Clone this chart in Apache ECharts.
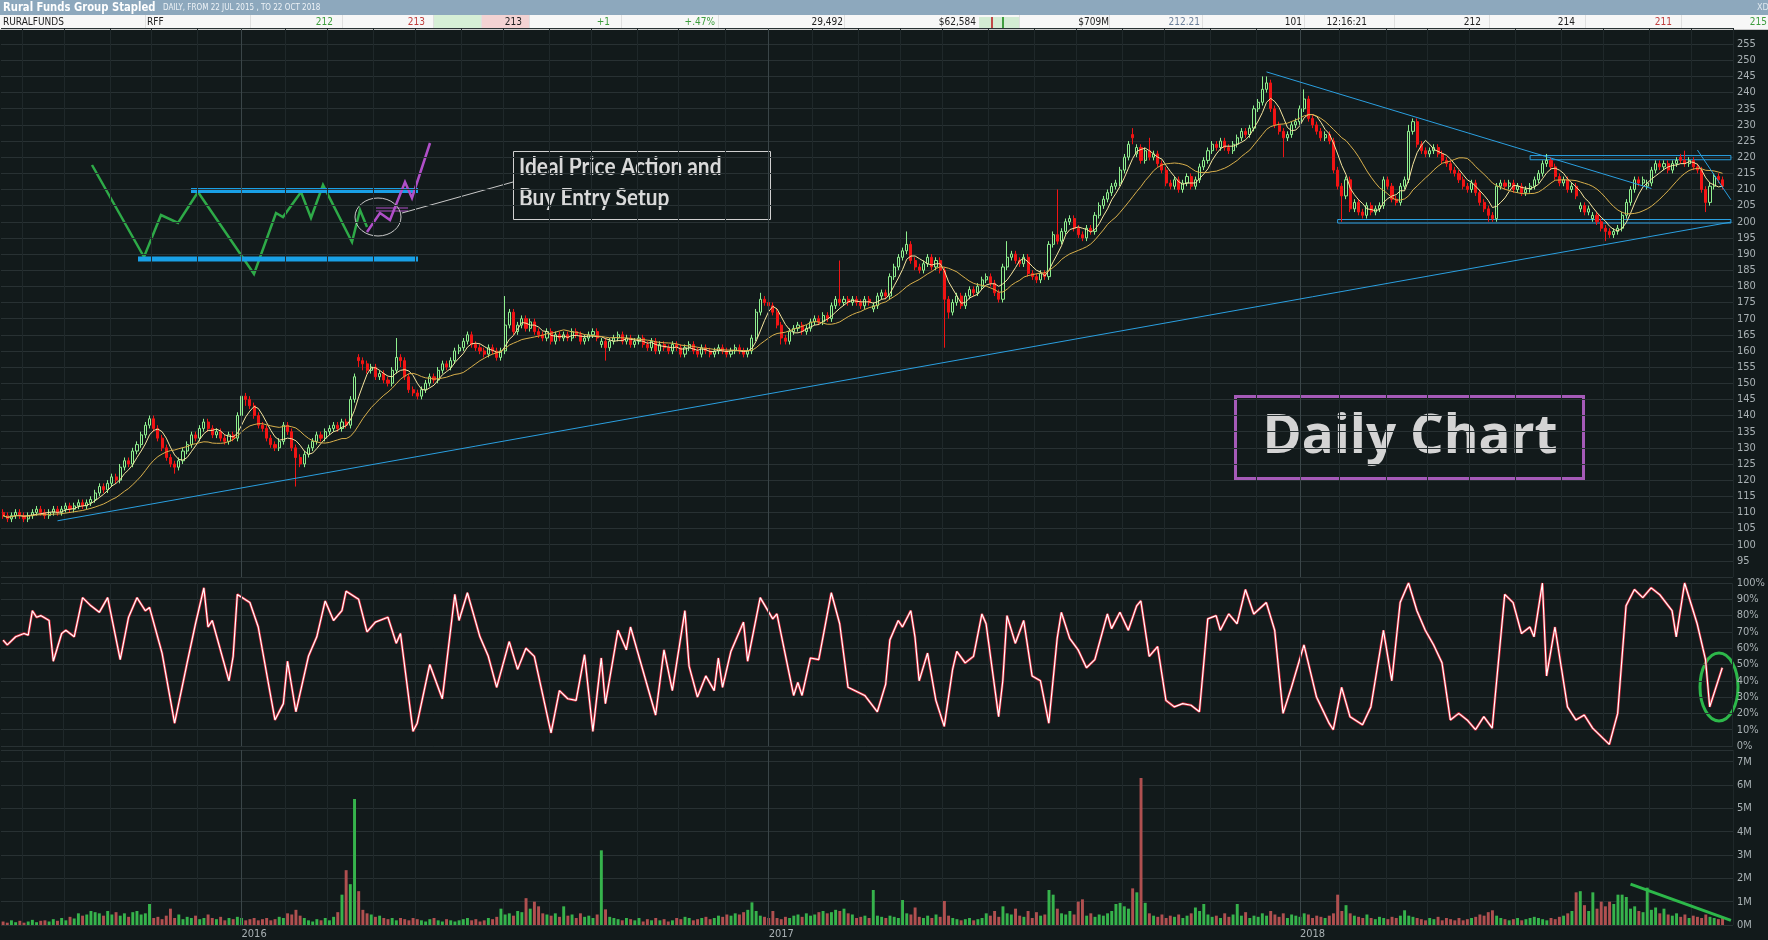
<!DOCTYPE html>
<html><head><meta charset="utf-8">
<script src="https://cdn.jsdelivr.net/npm/echarts@6/dist/echarts.min.js"></script>
<style>html,body{margin:0;padding:0;background:#121a1b;}#c{width:1768px;height:940px;}</style>
</head><body><div id="c"></div>
<script>
// ---- DATA (2-trading-day candles, 22 Jul 2015 .. 22 Oct 2018) ----
// [open, close, low, high]
const candles = [
[110,109,108,111],[109,108,107,110],[108,109,107,110],[109,110,108,111],[110,109,108,111],[109,108,107,110],[108,109,107,110],[109,110,108,111],[110,111,109,112],[111,110,109,112],
[110,109,108,111],[109,110,108,111],[110,111,109,112],[111,110,109,112],[110,111,109,112],[111,112,110,113],[112,111,110,113],[111,112,110,113],[112,113,111,114],[113,112,111,114],
[112,113,111,114],[113,114,112,115],[114,116,113,117],[116,118,115,119],[118,117,116,119],[117,119,116,120],[119,121,118,122],[121,120,119,122],[120,124,119,125],[124,126,123,127],
[126,125,124,127],[125,129,124,130],[129,131,128,132],[131,134,130,135],[134,137,133,138],[137,139,136,140],[139,136,135,140],[136,133,132,137],[133,130,129,134],[130,127,126,131],
[127,125,124,128],[125,124,122,126],[124,126,123,127],[126,129,125,130],[129,131,128,132],[131,134,130,135],[134,133,132,135],[133,136,132,137],[136,138,135,139],[138,136,135,139],
[136,134,133,137],[134,135,133,136],[135,133,132,136],[133,132,131,134],[132,134,131,135],[134,133,132,135],[133,140,132,141],[140,146,139,148],[146,145,143,147],[145,143,142,146],
[143,140,139,144],[140,137,136,141],[137,136,135,138],[136,133,132,137],[133,131,130,134],[131,130,129,132],[130,132,129,133],[132,137,131,138],[137,135,134,138],[135,130,129,136],
[130,127,118,131],[127,125,124,128],[125,128,124,129],[128,130,127,131],[130,132,129,133],[132,134,131,135],[134,133,132,135],[133,135,132,136],[135,136,134,137],[136,137,135,138],
[137,136,135,138],[136,138,135,139],[138,137,136,139],[137,145,136,146],[145,152,144,153],[158,157,155,159],[157,156,154,158],[156,154,153,157],[154,155,153,156],[155,152,151,156],
[152,153,151,154],[153,151,150,154],[151,150,149,152],[150,154,149,155],[154,158,153,164],[158,157,155,159],[157,152,151,158],[152,148,147,153],[148,147,146,149],[147,146,145,148],
[146,148,145,149],[148,150,147,151],[150,152,149,153],[152,151,150,153],[151,154,150,155],[154,156,153,157],[156,155,154,157],[155,157,154,158],[157,160,156,161],[160,161,159,162],
[161,163,160,164],[163,165,162,166],[165,162,161,166],[162,161,160,163],[161,160,159,162],[160,159,158,161],[159,161,158,162],[161,160,159,162],[160,158,157,161],[158,160,157,161],
[160,168,159,177],[168,172,167,173],[172,166,165,173],[166,168,165,169],[168,170,167,171],[170,167,166,171],[167,169,166,170],[169,166,165,170],[166,165,164,167],[165,164,163,166],
[164,166,163,167],[166,163,162,167],[163,165,162,166],[165,164,163,166],[164,165,163,166],[165,164,163,166],[164,166,163,167],[166,165,164,167],[165,163,162,166],[163,164,162,165],
[164,165,163,166],[165,166,164,167],[166,164,163,167],[162,163,161,164],[163,161,157,164],[161,163,160,164],[163,164,162,165],[164,165,163,166],[165,163,162,166],[163,164,162,165],
[164,162,161,165],[162,163,161,164],[163,164,162,165],[164,162,161,165],[162,161,160,163],[161,163,160,164],[163,160,159,164],[160,162,159,163],[162,161,160,163],[161,160,159,162],
[160,162,159,163],[162,161,160,163],[161,159,158,162],[159,161,158,162],[161,162,160,163],[162,160,159,163],[160,159,158,161],[159,161,158,162],[161,160,159,162],[160,159,158,161],
[159,160,158,161],[160,161,159,162],[161,160,159,162],[160,159,158,161],[159,160,158,161],[160,161,159,162],[161,160,159,162],[160,159,158,161],[159,160,158,161],[160,164,159,165],
[164,172,163,173],[172,176,171,178],[176,175,174,177],[175,174,173,176],[174,172,171,175],[172,168,167,173],[168,164,162,169],[164,163,162,165],[163,166,162,167],[166,167,165,168],
[167,168,166,169],[168,166,165,169],[166,167,165,168],[167,169,166,170],[169,170,168,171],[170,169,168,171],[169,171,168,172],[171,170,169,172],[170,174,169,175],[174,176,173,177],
[176,175,174,188],[175,176,174,177],[176,175,174,177],[175,176,174,177],[176,175,174,177],[175,174,173,176],[174,176,173,177],[176,175,174,177],[173,174,172,175],[174,177,173,178],
[177,178,176,179],[178,177,176,179],[177,183,176,184],[183,186,182,187],[186,189,185,190],[189,191,188,192],[191,193,190,197],[193,188,187,194],[188,186,185,189],[186,185,184,187],
[185,187,184,188],[187,189,186,190],[189,186,185,190],[186,188,185,189],[188,185,184,189],[185,176,161,186],[176,172,170,177],[172,175,171,176],[175,177,174,178],[177,174,173,178],
[174,177,173,178],[177,179,176,180],[179,178,177,180],[178,180,177,181],[180,182,179,183],[182,183,181,184],[183,181,180,184],[181,178,177,182],[178,176,175,179],[176,186,175,187],
[186,189,185,194],[189,190,188,191],[190,188,187,191],[188,187,186,189],[187,189,186,190],[189,184,183,190],[184,183,182,185],[183,182,181,184],[182,184,181,185],[184,183,182,185],
[183,193,182,194],[193,196,192,197],[196,194,193,210],[194,197,193,198],[197,200,196,201],[200,201,199,202],[201,198,197,202],[198,196,195,199],[196,195,194,197],[195,198,194,199],
[198,197,196,199],[197,202,196,203],[202,205,201,206],[205,207,204,208],[207,209,206,210],[209,211,208,212],[211,212,210,213],[212,216,211,217],[216,220,215,221],[220,224,219,225],
[227,226,224,229],[221,223,220,224],[223,219,218,224],[219,222,218,223],[222,220,219,226],[220,221,219,222],[221,218,217,222],[218,216,215,219],[216,212,211,217],[212,211,210,213],
[211,213,210,214],[213,210,209,214],[210,212,209,213],[212,214,211,215],[214,211,210,215],[211,213,210,214],[213,217,212,218],[217,219,216,220],[219,222,218,223],[222,224,221,225],
[224,223,222,225],[223,225,222,226],[225,223,222,226],[223,222,221,224],[222,224,221,225],[224,226,223,227],[226,228,225,229],[228,227,226,229],[227,229,226,230],[229,235,228,236],
[235,237,234,238],[237,241,236,245],[241,243,240,245],[243,235,234,244],[235,230,229,236],[230,228,227,231],[228,226,220,229],[226,227,225,228],[227,230,226,231],[230,231,229,232],
[231,235,230,236],[235,238,234,241],[238,232,231,239],[232,230,229,233],[230,228,227,231],[228,226,225,229],[226,227,225,228],[227,225,224,228],[225,216,215,226],[216,211,210,217],
[211,208,200,212],[208,213,207,214],[213,204,203,214],[204,206,203,207],[206,203,202,207],[203,202,201,204],[202,205,201,206],[205,203,202,206],[203,204,202,205],[204,205,203,206],
[205,213,204,214],[213,211,210,214],[211,207,206,212],[207,206,205,208],[206,211,205,212],[211,213,210,214],[213,228,212,230],[228,231,227,232],[231,224,223,232],[224,222,221,225],
[222,221,220,223],[221,222,220,223],[222,223,221,224],[223,221,220,224],[221,219,218,222],[219,218,217,220],[218,216,215,219],[216,215,214,217],[215,213,212,216],[213,211,210,214],
[211,210,209,212],[210,212,209,213],[212,209,208,213],[209,206,205,210],[206,204,203,207],[204,202,200,205],[202,201,200,203],[201,211,200,212],[211,212,210,213],[212,211,210,213],
[211,212,210,213],[212,210,209,213],[210,211,209,212],[211,209,208,212],[209,210,208,211],[210,211,209,212],[211,213,210,214],[213,215,212,216],[215,218,214,219],[218,219,217,221],
[219,217,216,220],[217,214,213,218],[214,212,211,215],[212,213,211,214],[213,210,209,214],[210,211,209,212],[211,208,207,212],[204,205,203,206],[205,203,202,206],[203,204,202,205],
[201,202,200,203],[202,200,199,203],[200,198,197,201],[198,197,194,199],[197,196,195,198],[196,197,195,198],[197,198,196,199],[198,202,197,203],[202,206,201,207],[206,210,205,211],
[210,213,209,214],[213,212,211,214],[212,213,211,214],[211,212,210,213],[212,216,211,217],[216,218,215,219],[218,217,216,219],[217,218,216,219],[218,216,215,219],[216,218,215,219],
[218,219,217,220],[220,219,218,221],[219,218,217,222],[218,219,217,220],[219,217,216,220],[217,216,215,218],[216,210,209,217],[210,206,203,211],[206,211,205,212],[211,214,210,215],
[214,213,212,215],[213,211,210,214]
];
// volume, millions
const volumes = [
.15,.1,.2,.12,.18,.1,.15,.22,.12,.18, .2,.15,.25,.18,.3,.2,.35,.28,.5,.4,
.45,.6,.55,.5,.4,.6,.45,.55,.4,.5, .35,.55,.6,.45,.5,.9,.3,.35,.25,.4,
.7,.3,.45,.25,.35,.3,.4,.25,.3,.45, .3,.25,.35,.2,.3,.25,.35,.3,.2,.25,
.3,.2,.25,.3,.2,.25,.35,.3,.5,.45, .65,.4,.3,.2,.15,.25,.2,.3,.2,.35,
.55,1.3,2.35,1.75,5.4,1.45,.65,.5,.45,.35, .4,.3,.25,.3,.2,.3,.25,.2,.3,.25,
.2,.15,.25,.3,.2,.15,.25,.2,.15,.2, .25,.3,.2,.25,.15,.2,.3,.25,.35,.7,
.45,.5,.4,.6,.55,1.15,.7,1.0,.8,.5, .45,.4,.5,.35,.8,.4,.45,.3,.5,.35,
.4,.3,.45,3.2,.67,.35,.3,.25,.2,.3, .25,.2,.3,.15,.25,.2,.3,.2,.25,.15,
.2,.3,.25,.35,.3,.2,.25,.3,.35,.25, .3,.4,.35,.45,.4,.5,.45,.55,.65,.97,
.6,.4,.35,.3,.6,.3,.25,.35,.3,.4, .45,.35,.5,.4,.45,.55,.6,.5,.55,.65,
.6,.7,.5,.45,.3,.35,.4,.3,1.5,.4, .35,.3,.4,.35,.3,1.07,.5,.45,.75,.35,
.3,.4,.3,.45,.35,1.03,.4,.3,.25,.2, .25,.3,.2,.25,.3,.5,.4,.6,.35,.8,
.5,.45,.7,.4,.35,.6,.3,.55,.4,.45, 1.5,1.3,.7,.5,.45,.6,.45,1.0,1.1,.4,
.5,.35,.45,.4,.5,.6,.9,.95,.8,.7, 1.57,1.4,6.3,.95,.5,.4,.35,.45,.3,.4,
.35,.45,.3,.4,.5,.75,.6,.9,.45,.35, .4,.3,.5,.35,.45,.9,.4,.55,.3,.4,
.35,.5,.4,.6,.45,.35,.5,.3,.45,.4, .35,.5,.45,.3,.4,.35,.3,.4,.5,1.3,
.6,.85,.5,.4,.35,.3,.45,.3,.25,.35, .3,.25,.35,.3,.4,.63,.4,.35,.3,.25,
.2,.3,.25,.35,.2,.3,.25,.2,.3,.2, .25,.3,.35,.45,.4,.55,.63,.4,.3,.25,
.2,.25,.3,.2,.25,.3,.35,.3,.25,.2, .3,.25,.35,.4,.5,.6,1.4,1.45,.85,.6,
1.4,.7,1.0,.8,1.0,.9,1.3,1.3,1.2,.7, .8,.6,.55,1.6,.65,.75,.5,.7,.45,.4,
.5,.35,.45,.3,.4,.35,.3,.45,.35,.3, .25,.3
];
// stochastic %K read at [candle index, percent]
const stochKeys = [
[0,65],[1,62],[3,67],[5,69],[6,68],[7,83],[8,79],[9,80],[11,77],[12,52],[14,69],[15,71],[17,67],[19,91],[21,86],[23,82],[25,91],[28,53],[30,79],[32,91],[34,83],[35,85],[38,57],[41,14],[44,51],[46,75],[48,97],[49,73],[50,77],[54,40],[55,55],[56,93],[59,88],[61,73],[65,16],[67,26],[68,52],[70,21],[73,55],[75,67],[77,89],[79,77],[81,83],[82,95],[85,90],[87,70],[89,76],[92,79],[94,63],[95,69],[98,9],[99,14],[102,50],[105,29],[108,93],[109,77],[111,94],[114,67],[116,55],[118,36],[121,64],[123,47],[125,60],[127,55],[131,8],[133,34],[135,29],[137,28],[139,56],[141,9],[143,54],[144,26],[147,71],[149,59],[150,73],[156,19],[158,59],[160,34],[163,83],[164,49],[166,30],[168,43],[170,34],[171,54],[172,36],[174,58],[177,76],[178,52],[181,91],[184,78],[185,81],[189,31],[190,39],[191,31],[193,54],[195,53],[198,94],[200,75],[202,36],[206,31],[209,21],[211,38],[212,65],[214,77],[215,73],[217,83],[218,67],[219,40],[221,57],[223,28],[225,12],[227,47],[228,58],[230,51],[232,55],[234,81],[235,75],[238,18],[239,40],[240,80],[242,63],[244,77],[246,43],[248,40],[250,14],[252,66],[253,82],[255,66],[257,59],[259,48],[261,53],[264,81],[265,72],[267,82],[269,71],[271,86],[272,89],[274,55],[276,61],[278,28],[280,24],[282,26],[284,25],[286,21],[288,78],[290,80],[291,71],[293,81],[295,75],[297,96],[299,81],[302,88],[304,71],[306,20],[308,36],[311,62],[314,30],[317,14],[318,10],[320,36],[322,18],[325,13],[327,24],[330,71],[332,40],[334,88],[336,100],[338,83],[340,71],[342,62],[344,51],[346,16],[348,20],[350,16],[352,10],[354,18],[356,11],[359,93],[361,88],[363,69],[365,73],[366,67],[368,100],[369,43],[371,73],[374,24],[376,16],[378,19],[380,11],[384,1],[386,20],[388,86],[390,96],[392,91],[394,97],[396,93],[399,83],[400,67],[402,100],[405,75],[407,53],[408,24],[411,48]
];
const yearTicks = [57,183,310];
const yearLabelIdx = [60,186,313];
const yearLabelText = ['2016','2017','2018'];
const monthTicks = [5,15,26,36,47,68,78,89,99,110,120,131,141,152,162,173,194,205,215,225,236,247,257,268,278,289,300,320,331,341,351,362,373,383,394,404];
// drawn trendlines, in [candle index, price] / [candle index, volume]
const priceTrends = [[[13,107.4],[413,199.9]],[[302,246.4],[394,210.3]],[[405,222.2],[413,206.8]]];
const priceBoxes = [[[365,220.5],[413,219.2]],[[319,200.7],[413,199.6]]];
const volumeTrend = [[389,1.75],[413,0.2]];

// ---- build ----
const NCAT = 414;
const cats = Array.from({length:NCAT},(_,i)=>String(i));
const closes = candles.map(c=>c[1]);
function movingAvg(n){
  return closes.map((v,i)=>{const s=closes.slice(Math.max(0,i-n+1),i+1);return +(s.reduce((a,b)=>a+b,0)/s.length).toFixed(2);});
}
const stochData = new Array(NCAT).fill(null);
stochKeys.forEach(([i,v])=>{stochData[i]=v;});
const UP='#36b34c', DN='#b05050';
const volData = volumes.map((v,i)=>({value:v,itemStyle:{color:candles[i][1]>=candles[i][0]?UP:DN}}));

const BG='#121a1b', LBL='#a9b1b4', GRIDC='#283133', VGRID='#1f282a', YEARC='#3a4548';
const NARROW="'Liberation Sans Narrow','DejaVu Sans Condensed','Roboto Condensed',Roboto,sans-serif";
const yearLines = yearTicks.map(x=>({xAxis:x,lineStyle:{color:YEARC,width:1,type:'solid'}}));

function xa(g,showLabel){
  return {type:'category',gridIndex:g,data:cats,boundaryGap:true,
    axisLine:{show:false},axisTick:{show:false},
    axisLabel:showLabel?{show:true,interval:(i)=>yearLabelIdx.includes(i),
      formatter:(v)=>{const k=yearLabelIdx.indexOf(+v);return k>=0?yearLabelText[k]:'';},
      color:LBL,fontSize:11,fontFamily:NARROW,margin:4}:{show:false},
    splitLine:{show:true,interval:(i)=>monthTicks.includes(i),lineStyle:{color:VGRID,width:1}}};
}
function ya(g,min,max,interval,fmt){
  return {type:'value',gridIndex:g,position:'right',min,max,interval,
    axisLine:{show:false},axisTick:{show:false},
    axisLabel:{color:LBL,fontSize:11,fontFamily:NARROW,margin:4,formatter:fmt},
    splitLine:{show:true,lineStyle:{color:GRIDC,width:1}}};
}

const chart = echarts.init(document.getElementById('c'),null,{renderer:'canvas'});
const hdrRight=[['212',333,'#3f9e3f'],['213',425,'#c04040'],['213',522,'#222'],['+1',610,'#3f9e3f'],['+.47%',715,'#3f9e3f'],['29,492',843,'#222'],['$62,584',976,'#222'],['$709M',1109,'#222'],['212.21',1200,'#6b7f99'],['101',1302,'#222'],['12:16:21',1367,'#222'],['212',1481,'#222'],['214',1575,'#222'],['211',1672,'#c04040'],['215',1767,'#3f9e3f']];
const hdrDiv=[145,250,342,433,481,529,621,718,844,1019,1109,1202,1304,1394,1489,1585,1681];
const graphic=[
  {type:'rect',shape:{x:0,y:0,width:1768,height:15},style:{fill:'#8da8bd'},silent:true},
  {type:'rect',shape:{x:0,y:15,width:1768,height:14},style:{fill:'#f7f7f7'},silent:true},
  {type:'rect',shape:{x:433,y:15,width:48,height:14},style:{fill:'#d6efd6'},silent:true},
  {type:'rect',shape:{x:481,y:15,width:48,height:14},style:{fill:'#f3d3d3'},silent:true},
  {type:'rect',shape:{x:979,y:17,width:40,height:11},style:{fill:'#d3ecd3'},silent:true},
  {type:'rect',shape:{x:991,y:17,width:2,height:11},style:{fill:'#c04848'},silent:true},
  {type:'rect',shape:{x:1002,y:17,width:2,height:11},style:{fill:'#3f9e3f'},silent:true},
  {type:'line',shape:{x1:0,y1:29.5,x2:1768,y2:29.5},style:{stroke:'#c9c9c9',lineWidth:1},silent:true},
  ...hdrDiv.map(x=>({type:'line',shape:{x1:x+0.5,y1:15,x2:x+0.5,y2:29},style:{stroke:'#e0e0e0',lineWidth:1},silent:true})),
  {type:'text',x:3,y:1,scaleX:0.86,style:{text:'Rural Funds Group Stapled',fill:'#ffffff',font:"bold 13px "+NARROW,textVerticalAlign:'top',verticalAlign:'top'},silent:true},
  {type:'text',x:163,y:4,style:{text:'DAILY, FROM 22 JUL 2015 , TO 22 OCT 2018',fill:'#eef3f7',font:"8px "+NARROW,textVerticalAlign:'top',verticalAlign:'top'},silent:true},
  {type:'text',x:1757,y:3,style:{text:'XD',fill:'#dfe8ef',font:"9px "+NARROW,textVerticalAlign:'top',verticalAlign:'top'},silent:true},
  {type:'text',x:3,y:17,style:{text:'RURALFUNDS',fill:'#222',font:"10px "+NARROW,textVerticalAlign:'top',verticalAlign:'top'},silent:true},
  {type:'text',x:147,y:17,style:{text:'RFF',fill:'#222',font:"10px "+NARROW,textVerticalAlign:'top',verticalAlign:'top'},silent:true},
  ...hdrRight.map(([t,x,c])=>({type:'text',x:x,y:17,style:{text:t,fill:c,font:"10px "+NARROW,textAlign:'right',align:'right',textVerticalAlign:'top',verticalAlign:'top'},silent:true})),
  // sketch of ideal price action
  {type:'polyline',shape:{points:[[92,165],[144,257],[161,215],[178,223],[198,192],[254,274],[276,213],[283,217],[301,192],[311,218],[323,185],[352,242],[360,210],[367,227]]},style:{stroke:'#2eaa48',lineWidth:2.5,fill:null},silent:true},
  {type:'line',shape:{x1:191,y1:190.5,x2:418,y2:190.5},style:{stroke:'#19a0e6',lineWidth:5},silent:true},
  {type:'line',shape:{x1:138,y1:259,x2:418,y2:259},style:{stroke:'#19a0e6',lineWidth:5},silent:true},
  {type:'polyline',shape:{points:[[367,232],[380,213],[390,220],[405,182],[412,198],[430,143]]},style:{stroke:'#b04fc8',lineWidth:2.5,fill:null},silent:true},
  {type:'line',shape:{x1:376,y1:208,x2:408,y2:208},style:{stroke:'#b04fc8',lineWidth:1},silent:true},
  {type:'line',shape:{x1:376,y1:211,x2:408,y2:211},style:{stroke:'#b04fc8',lineWidth:1},silent:true},
  {type:'ellipse',shape:{cx:378,cy:217,rx:23,ry:19},style:{stroke:'#c8c8c8',lineWidth:1,fill:null},silent:true},
  {type:'line',shape:{x1:402,y1:213,x2:513,y2:182},style:{stroke:'#c8c8c8',lineWidth:1},silent:true},
  {type:'rect',shape:{x:513.5,y:151.5,width:257,height:68},style:{stroke:'#d0d0d0',lineWidth:1,fill:null},silent:true},
  {type:'text',x:519,y:155,scaleX:0.87,style:{text:'Ideal Price Action and',fill:'#d9d9d9',font:"bold 24px Lato",textVerticalAlign:'top',verticalAlign:'top'},silent:true},
  {type:'text',x:519,y:186,scaleX:0.87,style:{text:'Buy Entry Setup',fill:'#d9d9d9',font:"bold 24px Lato",textVerticalAlign:'top',verticalAlign:'top'},silent:true},
  // Daily Chart label
  {type:'rect',shape:{x:1235.5,y:396.5,width:348,height:82},style:{stroke:'#a55ab8',lineWidth:3,fill:null},silent:true},
  {type:'text',x:1410,y:438,style:{text:'Daily Chart',fill:'#d4d4d4',font:"bold 53px 'Open Sans'",textAlign:'center',align:'center',textVerticalAlign:'middle',verticalAlign:'middle'},silent:true},
  // green ellipse on stochastic
  {type:'ellipse',shape:{cx:1719,cy:687,rx:19,ry:34},style:{stroke:'#2db84a',lineWidth:3,fill:null},silent:true}
];

chart.setOption({
  backgroundColor:BG,
  animation:false,
  grid:[{left:1,right:35,top:28,height:549},{left:1,right:35,top:583,height:163},{left:1,right:35,top:750,height:175}],
  xAxis:[xa(0,false),xa(1,false),xa(2,true)],
  yAxis:[
    ya(0,90,260,5,(v)=>(v<95||v>255)?'':String(v)),
    ya(1,0,100,10,(v)=>v+'%'),
    ya(2,0,7.5,1,(v)=>(v%1===0)?(v+'M'):'')
  ],
  series:[
    {type:'candlestick',name:'RFF',xAxisIndex:0,yAxisIndex:0,data:candles,barWidth:'62%',
      itemStyle:{color:BG,color0:'#f01414',borderColor:'#8ff08f',borderColor0:'#f01414',borderWidth:1},
      markLine:{symbol:['none','none'],silent:true,label:{show:false},lineStyle:{color:'#2a9fe0',width:1,type:'solid'},
        data:[...yearLines,...priceTrends.map(p=>[{coord:p[0]},{coord:p[1]}])]},
      markArea:{silent:true,itemStyle:{color:'rgba(0,0,0,0)',borderColor:'#2a9fe0',borderWidth:1},
        data:priceBoxes.map(b=>[{coord:b[0]},{coord:b[1]}])}},
    {type:'line',name:'MA fast',xAxisIndex:0,yAxisIndex:0,data:movingAvg(5),symbol:'none',lineStyle:{color:'#f7e6a0',width:1},z:3},
    {type:'line',name:'MA slow',xAxisIndex:0,yAxisIndex:0,data:movingAvg(15),symbol:'none',lineStyle:{color:'#d9b04c',width:1},z:3},
    {type:'line',name:'%D',xAxisIndex:1,yAxisIndex:1,data:stochData,connectNulls:true,symbol:'none',lineStyle:{color:'#d8283a',width:2.6},
      markLine:{symbol:['none','none'],silent:true,label:{show:false},data:yearLines}},
    {type:'line',name:'%K',xAxisIndex:1,yAxisIndex:1,data:stochData,connectNulls:true,symbol:'none',lineStyle:{color:'#ffffff',width:1.2}},
    {type:'bar',name:'Volume',xAxisIndex:2,yAxisIndex:2,data:volData,barWidth:'70%',
      markLine:{symbol:['none','none'],silent:true,label:{show:false},
        data:[...yearLines,[{coord:volumeTrend[0],lineStyle:{color:'#2db84a',width:3,type:'solid'}},{coord:volumeTrend[1]}]]}}
  ],
  graphic:graphic
});
</script></body></html>
